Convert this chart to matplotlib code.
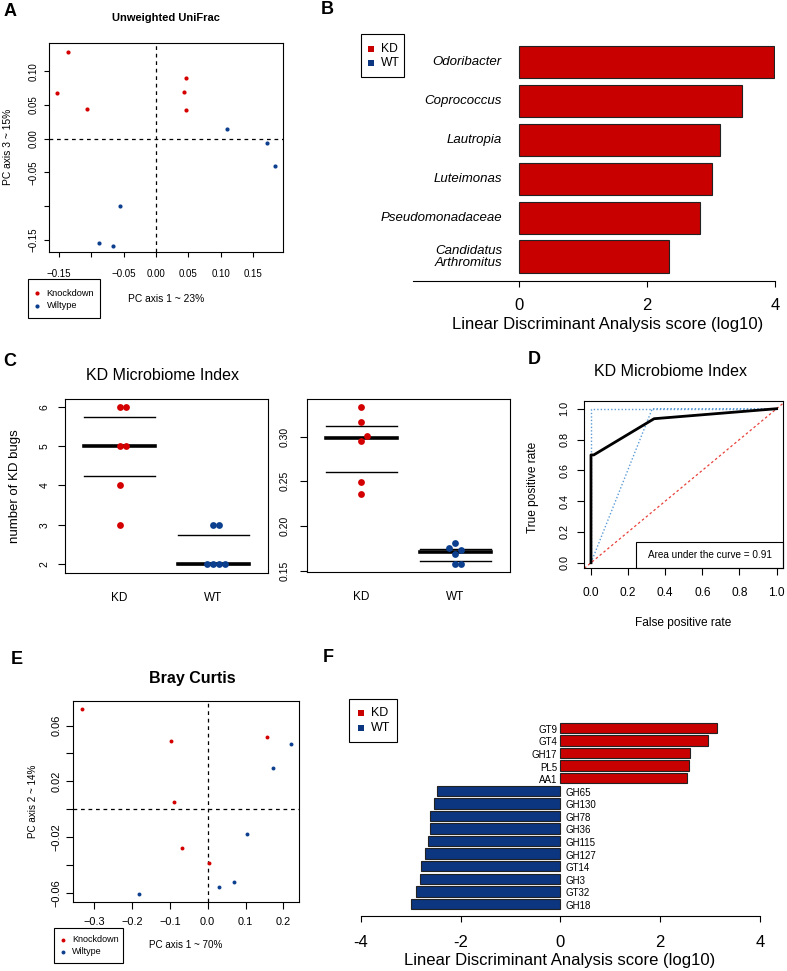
import numpy as np
import matplotlib
matplotlib.use('Agg')
import matplotlib.pyplot as plt
from matplotlib.patches import Rectangle

plt.rcParams['font.family'] = ['Liberation Sans', 'DejaVu Sans']

W, H = 787, 971
RED = '#d40000'
BLUE = '#0d3f8f'
RED_BAR = '#c80000'
BLUE_BAR = '#0c3680'

# A - unweighted UniFrac PCoA
a_kd_x = [-0.135, -0.152, -0.106, 0.047, 0.044, 0.046]
a_kd_y = [0.128, 0.068, 0.044, 0.090, 0.070, 0.043]
a_wt_x = [0.109, 0.172, 0.183, -0.056, -0.088, -0.066]
a_wt_y = [0.015, -0.006, -0.041, -0.100, -0.155, -0.159]

# B - LEfSe taxa
b_taxa = ['Odoribacter', 'Coprococcus', 'Lautropia', 'Luteimonas',
          'Pseudomonadaceae', 'Candidatus\nArthromitus']
b_lda = [3.98, 3.49, 3.14, 3.02, 2.82, 2.35]

# C - KD microbiome index
c_groups = ['KD', 'WT']
c_kd_count = [6, 6, 5, 5, 4, 3]
c_wt_count = [3, 3, 2, 2, 2, 2]
c_kd_index = [0.333, 0.316, 0.301, 0.295, 0.249, 0.236]
c_wt_index = [0.181, 0.175, 0.173, 0.169, 0.158, 0.158]

# D - ROC
roc_fpr = [0, 0, 0.015, 0.34, 1]
roc_tpr = [0, 0.70, 0.70, 0.935, 1]
ci_hi_fpr = [0, 0, 1]
ci_hi_tpr = [0, 1, 1]
ci_lo_fpr = [0, 0.33, 1]
ci_lo_tpr = [0, 1, 1]

# E - Bray Curtis PCoA
e_kd_x = [-0.331, -0.097, -0.089, -0.068, 0.004, 0.156]
e_kd_y = [0.0722, 0.0492, 0.005, -0.0281, -0.0384, 0.0521]
e_wt_x = [0.219, 0.172, 0.103, 0.069, 0.031, -0.181]
e_wt_y = [0.0468, 0.0298, -0.018, -0.0523, -0.0559, -0.0612]

# F - LEfSe CAZy families
f_kd_genes = ['GT9', 'GT4', 'GH17', 'PL5', 'AA1']
f_kd_lda = [3.14, 2.96, 2.59, 2.57, 2.53]
f_wt_genes = ['GH65', 'GH130', 'GH78', 'GH36', 'GH115', 'GH127',
              'GT14', 'GH3', 'GT32', 'GH18']
f_wt_lda = [-2.48, -2.53, -2.61, -2.62, -2.66, -2.71, -2.79, -2.82, -2.89, -2.99]

fig = plt.figure(figsize=(W / 100, H / 100), dpi=100)


def px_axes(l, t, r, b):
    return fig.add_axes([l / W, 1 - b / H, (r - l) / W, (b - t) / H])


def r_style(ax, fs, xpad, ypad, tl=3.6):
    for s in ax.spines.values():
        s.set_linewidth(0.8)
    ax.tick_params(direction='out', length=tl, width=0.8, labelsize=fs)
    ax.tick_params(axis='x', pad=xpad)
    ax.tick_params(axis='y', pad=ypad, labelrotation=90)
    for lab in ax.get_yticklabels():
        lab.set_va('center')


def rlab(vals, nd, skip=()):
    out = []
    for v in vals:
        if any(abs(v - s) < 1e-9 for s in skip):
            out.append('')
        else:
            out.append(f'{v:.{nd}f}'.replace('-', '\u2212'))
    return out


def swarm(vals, ypx, d=6.0, xpx=94.0):
    # simple beeswarm: place points in order, nearest free slot
    order = np.argsort(vals)
    placed = []
    offs = np.zeros(len(vals))
    for i in order:
        y = vals[i] * ypx
        k = 0
        while True:
            cand = [0, 1, -1, 2, -2, 3, -3][k] * d
            if all(np.hypot(cand - px, y - py) >= d - 0.01 for px, py in placed):
                break
            k += 1
        placed.append((cand, y))
        offs[i] = cand / xpx
    return offs


ov = fig.add_axes([0, 0, 1, 1], zorder=10)
ov.set_xlim(0, W)
ov.set_ylim(H, 0)
ov.axis('off')


def letter(x, y, s):
    ov.text(x, y, s, ha='center', va='center', fontsize=13, fontweight='bold')


# ---------------- A ----------------
axA = px_axes(49, 43, 283, 252)
axA.axvline(0, color='k', ls=(0, (3, 3)), lw=0.9)
axA.axhline(0, color='k', ls=(0, (3, 3)), lw=0.9)
axA.scatter(a_kd_x, a_kd_y, s=9, c=RED, linewidths=0, zorder=3)
axA.scatter(a_wt_x, a_wt_y, s=9, c=BLUE, linewidths=0, zorder=3)
axA.set_xlim(-0.165, 0.196)
axA.set_ylim(-0.168, 0.142)
xt = [-0.15, -0.10, -0.05, 0, 0.05, 0.10, 0.15]
axA.set_xticks(xt, labels=rlab(xt, 2, skip=[-0.10]))
yt = [-0.15, -0.10, -0.05, 0, 0.05, 0.10]
axA.set_yticks(yt, labels=rlab(yt, 2, skip=[-0.10]))
r_style(axA, 7, 8.8, 4)
letter(10, 12, 'A')
ov.text(166, 18, 'Unweighted UniFrac', ha='center', va='center', fontsize=8, fontweight='bold')
ov.text(166, 299, 'PC axis 1 ~ 23%', ha='center', va='center', fontsize=7.4)
ov.text(8, 147, 'PC axis 3 ~ 15%', ha='center', va='center', fontsize=7.4, rotation=90)
ov.add_patch(Rectangle((28, 279), 72, 39, fill=False, lw=0.8, ec='k'))
ov.scatter([36.7], [293.3], s=9, c=RED, linewidths=0)
ov.scatter([36.7], [305.7], s=9, c=BLUE, linewidths=0)
ov.text(46.7, 293.3, 'Knockdown', va='center', fontsize=6.7)
ov.text(46.7, 305.7, 'Wiltype', va='center', fontsize=6.7)

# ---------------- B ----------------
axB = px_axes(413, 40, 775, 281)
yb = np.arange(len(b_taxa))
axB.barh(yb, b_lda, height=0.83, color=RED_BAR, edgecolor='#222222', lw=0.8)
for i, name in enumerate(b_taxa):
    axB.text(-0.27, yb[i], name, ha='right', va='center', fontsize=9.5,
             style='italic', multialignment='right', linespacing=1.0)
axB.set_xlim(-1.66, 4.0)
axB.set_ylim(5.63, -0.57)
for s in ['top', 'left', 'right']:
    axB.spines[s].set_visible(False)
axB.spines['bottom'].set_linewidth(0.8)
axB.set_yticks([])
axB.set_xticks([0, 2, 4])
axB.tick_params(axis='x', direction='out', length=4.1, width=0.8, labelsize=12, pad=7.8)
letter(327, 10, 'B')
ov.text(608, 325, 'Linear Discriminant Analysis score (log10)', ha='center', va='center', fontsize=12)
ov.add_patch(Rectangle((361, 34), 43, 43, fill=False, lw=0.8, ec='k'))
ov.scatter([371], [48.7], s=14, c=RED_BAR, marker='s', linewidths=0)
ov.scatter([371], [62.7], s=14, c=BLUE_BAR, marker='s', linewidths=0)
ov.text(381, 48.7, 'KD', va='center', fontsize=8.7)
ov.text(381, 62.7, 'WT', va='center', fontsize=8.7)

# ---------------- C ----------------
def index_panel(ax, kd, wt, ylim, ypx, yticks, ylabels):
    for g, (vals, col) in enumerate([(kd, RED), (wt, BLUE)]):
        vals = np.asarray(vals, float)
        x0 = g + 1
        q1, med, q3 = np.percentile(vals, [25, 50, 75])
        ax.plot([x0 - 0.38, x0 + 0.38], [q1, q1], color='k', lw=1.0)
        ax.plot([x0 - 0.38, x0 + 0.38], [q3, q3], color='k', lw=1.0)
        ax.plot([x0 - 0.38, x0 + 0.38], [med, med], color='k', lw=2.6)
        ax.scatter(x0 + swarm(vals, ypx), vals, s=24, c=col, linewidths=0, zorder=3)
    ax.set_xlim(0.42, 2.58)
    ax.set_ylim(*ylim)
    ax.set_xticks([1, 2], labels=c_groups)
    ax.set_yticks(yticks, labels=ylabels)


axC1 = px_axes(65, 399, 268, 572.7)
index_panel(axC1, c_kd_count, c_wt_count, (1.787, 6.195), 39.4,
            [2, 3, 4, 5, 6], ['2', '3', '4', '5', '6'])
r_style(axC1, 7.5, 14, 6.5, tl=4.8)
axC1.tick_params(axis='x', length=0, labelsize=8.5)

axC2 = px_axes(306.7, 399, 510, 572)
yt = [0.15, 0.20, 0.25, 0.30]
index_panel(axC2, c_kd_index, c_wt_index, (0.1485, 0.342), 893,
            yt, rlab(yt, 2))
r_style(axC2, 7.5, 14, 7.2, tl=4.8)
axC2.tick_params(axis='x', length=0, labelsize=8.5)
letter(10, 361, 'C')
ov.text(163, 375, 'KD Microbiome Index', ha='center', va='center', fontsize=11.5)
ov.text(15, 486, 'number of KD bugs', ha='center', va='center', fontsize=9.5, rotation=90)

# ---------------- D ----------------
axD = px_axes(584.3, 401, 783.3, 568.3)
axD.axline((0, 0), (1, 1), color='#e8403a', ls=(0, (2, 2)), lw=0.9)
axD.plot(ci_hi_fpr, ci_hi_tpr, color='#5b9bd5', ls=(0, (1, 1.5)), lw=1.0)
axD.plot(ci_lo_fpr, ci_lo_tpr, color='#5b9bd5', ls=(0, (1, 1.5)), lw=1.0)
axD.plot(roc_fpr, roc_tpr, color='k', lw=2.0)
axD.set_xlim(-0.036, 1.036)
axD.set_ylim(-0.036, 1.05)
t = [0, 0.2, 0.4, 0.6, 0.8, 1.0]
axD.set_xticks(t, labels=rlab(t, 1))
axD.set_yticks(t, labels=rlab(t, 1))
r_style(axD, 8.6, 9, 5.8, tl=4.8)
axD.tick_params(axis='y', labelsize=7.8)
auc = np.trapezoid(roc_tpr, roc_fpr)
letter(534, 360, 'D')
ov.text(670, 371, 'KD Microbiome Index', ha='center', va='center', fontsize=11.5)
ov.text(683, 623, 'False positive rate', ha='center', va='center', fontsize=8.6)
ov.text(533, 487, 'True positive rate', ha='center', va='center', fontsize=8.6, rotation=90)
ov.add_patch(Rectangle((636, 542.3), 147.3, 26, fill=False, lw=0.8, ec='k'))
ov.text(710, 555.5, f'Area under the curve = {auc:.2f}', ha='center', va='center', fontsize=7.2)

# ---------------- E ----------------
axE = px_axes(73.3, 701, 299, 901.7)
axE.axvline(0, color='k', ls=(0, (3, 3)), lw=0.9)
axE.axhline(0, color='k', ls=(0, (3, 3)), lw=0.9)
axE.scatter(e_kd_x, e_kd_y, s=8, c=RED, linewidths=0, zorder=3)
axE.scatter(e_wt_x, e_wt_y, s=8, c=BLUE, linewidths=0, zorder=3)
axE.set_xlim(-0.355, 0.241)
axE.set_ylim(-0.0665, 0.0777)
xt = [-0.3, -0.2, -0.1, 0.0, 0.1, 0.2]
axE.set_xticks(xt, labels=rlab(xt, 1))
yt = [-0.06, -0.04, -0.02, 0.0, 0.02, 0.04, 0.06]
axE.set_yticks(yt, labels=rlab(yt, 2, skip=[-0.04, 0.0, 0.04]))
r_style(axE, 7.9, 6, 3.8, tl=4.8)
letter(17, 659, 'E')
ov.text(192, 679, 'Bray Curtis', ha='center', va='center', fontsize=11.5, fontweight='bold')
ov.text(186, 945, 'PC axis 1 ~ 70%', ha='center', va='center', fontsize=7.1)
ov.text(33, 801, 'PC axis 2 ~ 14%', ha='center', va='center', fontsize=7.1, rotation=90)
ov.add_patch(Rectangle((54.3, 927.7), 69, 35.6, fill=False, lw=0.8, ec='k'))
ov.scatter([63.3], [940], s=8, c=RED, linewidths=0)
ov.scatter([63.3], [952], s=8, c=BLUE, linewidths=0)
ov.text(72.3, 940, 'Knockdown', va='center', fontsize=6.5)
ov.text(72.3, 952, 'Wiltype', va='center', fontsize=6.5)

# ---------------- F ----------------
axF = px_axes(360.7, 716, 760, 916)
genes = f_kd_genes + f_wt_genes
vals = f_kd_lda + f_wt_lda
cols = [RED_BAR] * len(f_kd_genes) + [BLUE_BAR] * len(f_wt_genes)
yf = np.arange(len(genes))
axF.barh(yf, vals, height=0.83, color=cols, edgecolor='#222222', lw=0.8)
for i, g in enumerate(genes):
    if vals[i] > 0:
        axF.text(-0.066, yf[i] + 0.15, g, ha='right', va='center', fontsize=7)
    else:
        axF.text(0.1, yf[i] + 0.15, g, ha='left', va='center', fontsize=7)
axF.set_xlim(-4, 4)
axF.set_ylim(14.96, -0.95)
for s in ['top', 'left', 'right']:
    axF.spines[s].set_visible(False)
axF.spines['bottom'].set_linewidth(0.8)
axF.set_yticks([])
ft = [-4, -2, 0, 2, 4]
axF.set_xticks(ft, labels=[str(v) for v in ft])
axF.tick_params(axis='x', direction='out', length=4.1, width=0.8, labelsize=12, pad=9.4)
letter(328, 657, 'F')
ov.text(560, 960, 'Linear Discriminant Analysis score (log10)', ha='center', va='center', fontsize=12)
ov.add_patch(Rectangle((349.3, 699.3), 47.4, 43, fill=False, lw=0.8, ec='k'))
ov.scatter([360.7], [713.3], s=14, c=RED_BAR, marker='s', linewidths=0)
ov.scatter([360.7], [727.7], s=14, c=BLUE_BAR, marker='s', linewidths=0)
ov.text(371, 713.3, 'KD', va='center', fontsize=9)
ov.text(371, 727.7, 'WT', va='center', fontsize=9)

fig.savefig('out.png', dpi=100)
